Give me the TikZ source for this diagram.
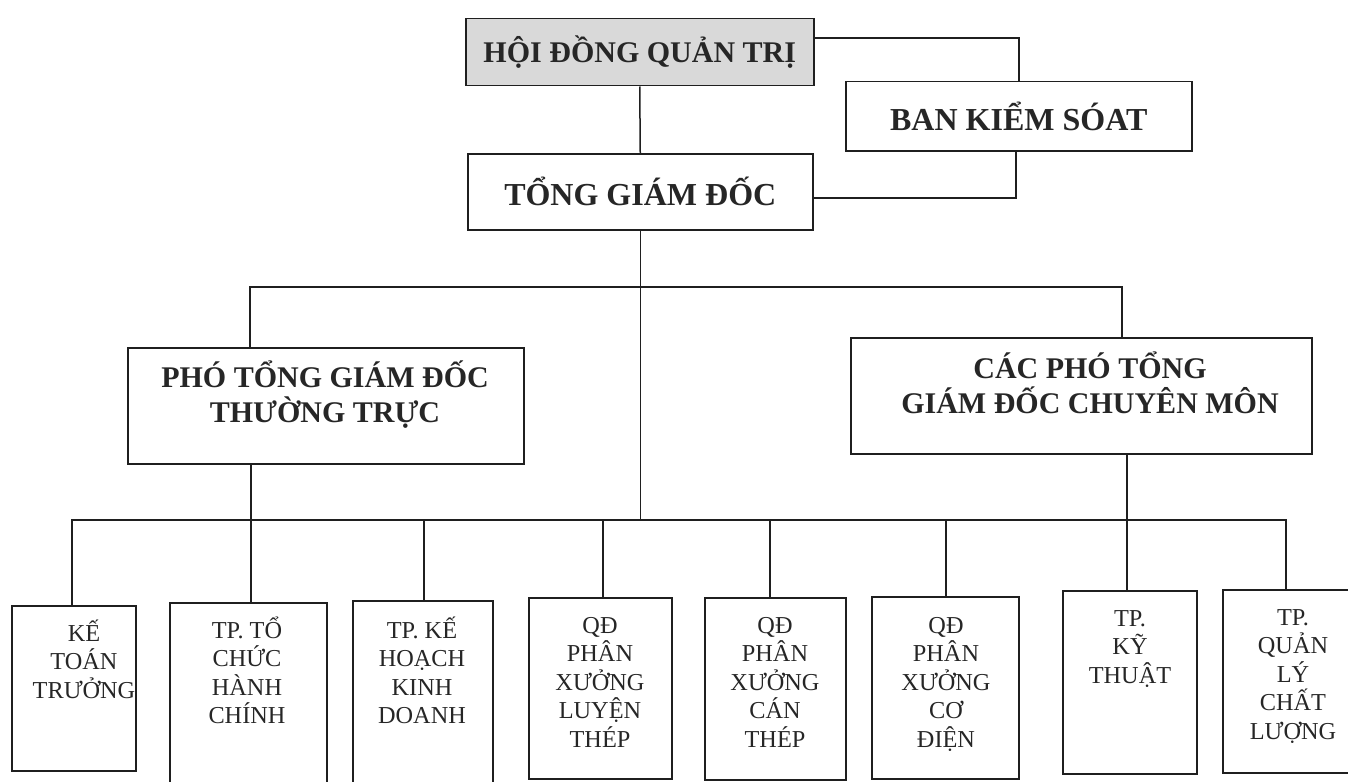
\documentclass[tikz,border=0pt]{standalone}
\usepackage{fontspec}
\setmainfont{Liberation Serif}
\begin{document}
\begin{tikzpicture}[x=1pt,y=-1pt,
  box/.style={draw=black!88, line width=1.5pt, rectangle, inner sep=0pt, anchor=north west, text=black!85},
  big/.style={font=\bfseries\fontsize{30}{35}\selectfont},
  ttxt/.style={inner sep=0pt, anchor=north, align=center, text=black!85, font=\bfseries\fontsize{30}{35}\selectfont},
  btxt/.style={inner sep=0pt, anchor=north, align=center, text=black!85, font=\fontsize{24.3}{28.5}\selectfont},
  conn/.style={draw=black!88, line width=1.5pt}]
\useasboundingbox (0,0) rectangle (1348,781);

% top level
\node[box, big, fill=gray!30, minimum width=348pt, minimum height=67pt] (hdqt) at (465,18) {HỘI ĐỒNG QUẢN TRỊ};
\node[box, font=\bfseries\fontsize{32}{36}\selectfont, minimum width=346pt, minimum height=69pt] (bks) at (845,81) {BAN KIỂM SÓAT};
\node[box, font=\bfseries\fontsize{32}{36}\selectfont, minimum width=345pt, minimum height=76pt] (tgd) at (467,153) {TỔNG GIÁM ĐỐC};

% second level
\node[box, minimum width=396pt, minimum height=116pt] (ptgd) at (127,347) {};
\node[ttxt] (ptgdt) at (325,355) {\rule{0pt}{32pt}PHÓ TỔNG GIÁM ĐỐC\\THƯỜNG TRỰC};
\node[box, minimum width=461pt, minimum height=116pt] (cptgd) at (850,337) {};
\node[ttxt] (cptgdt) at (1090,346) {\rule{0pt}{32pt}CÁC PHÓ TỔNG\\GIÁM ĐỐC CHUYÊN MÔN};

% bottom level boxes
\node[box, minimum width=124pt, minimum height=165pt] (b1) at (11,605) {};
\node[box, minimum width=157pt, minimum height=200pt] (b2) at (169,602) {};
\node[box, minimum width=140pt, minimum height=200pt] (b3) at (352,600) {};
\node[box, minimum width=143pt, minimum height=181pt] (b4) at (528,597) {};
\node[box, minimum width=141pt, minimum height=182pt] (b5) at (704,597) {};
\node[box, minimum width=147pt, minimum height=182pt] (b6) at (871,596) {};
\node[box, minimum width=134pt, minimum height=183pt] (b7) at (1062,590) {};
\node[box, minimum width=140pt, minimum height=183pt] (b8) at (1222,589) {};

\node[btxt] (b1t) at (84,615) {\rule{0pt}{26pt}KẾ\\TOÁN\\TRƯỞNG};
\node[btxt] (b2t) at (247,612) {\rule{0pt}{26pt}TP. TỔ\\CHỨC\\HÀNH\\CHÍNH};
\node[btxt] (b3t) at (422,612) {\rule{0pt}{26pt}TP. KẾ\\HOẠCH\\KINH\\DOANH};
\node[btxt] (b4t) at (600,607) {\rule{0pt}{26pt}QĐ\\PHÂN\\XƯỞNG\\LUYỆN\\THÉP};
\node[btxt] (b5t) at (775,607) {\rule{0pt}{26pt}QĐ\\PHÂN\\XƯỞNG\\CÁN\\THÉP};
\node[btxt] (b6t) at (946,607) {\rule{0pt}{26pt}QĐ\\PHÂN\\XƯỞNG\\CƠ\\ĐIỆN};
\node[btxt] (b7t) at (1130,600) {\rule{0pt}{26pt}TP.\\KỸ\\THUẬT};
\node[btxt] (b8t) at (1293,599) {\rule{0pt}{26pt}TP.\\QUẢN\\LÝ\\CHẤT\\LƯỢNG};

% junction coordinates
\coordinate (j1) at (1019,38);
\coordinate (j2) at (1016,198);
\coordinate (ul) at (250,287);
\coordinate (ur) at (1122,287);
\coordinate (ll) at (72,520);
\coordinate (lr) at (1286,520);
\coordinate (xp) at (251,520);
\coordinate (xc) at (1127,520);
\coordinate (x3) at (424,520);
\coordinate (x4) at (603,520);
\coordinate (x5) at (770,520);
\coordinate (x6) at (946,520);

% connectors
\draw[conn] (j1 -| hdqt.east) -- (j1) -- (j1 |- bks.north);
\draw[conn] (j2 -| tgd.east) -- (j2) -- (j2 |- bks.south);
\draw[conn] (hdqt.south) -- (tgd.north);
\draw[conn] (tgd.south) -- (tgd.south |- ll);
\draw[conn] (ul |- ptgd.north) -- (ul) -- (ur) -- (ur |- cptgd.north);
\draw[conn] (xp |- ptgd.south) -- (xp) -- (xp |- b2.north);
\draw[conn] (xc |- cptgd.south) -- (xc) -- (xc |- b7.north);
\draw[conn] (ll |- b1.north) -- (ll) -- (lr) -- (lr |- b8.north);
\draw[conn] (x3) -- (x3 |- b3.north);
\draw[conn] (x4) -- (x4 |- b4.north);
\draw[conn] (x5) -- (x5 |- b5.north);
\draw[conn] (x6) -- (x6 |- b6.north);
\end{tikzpicture}
\end{document}
